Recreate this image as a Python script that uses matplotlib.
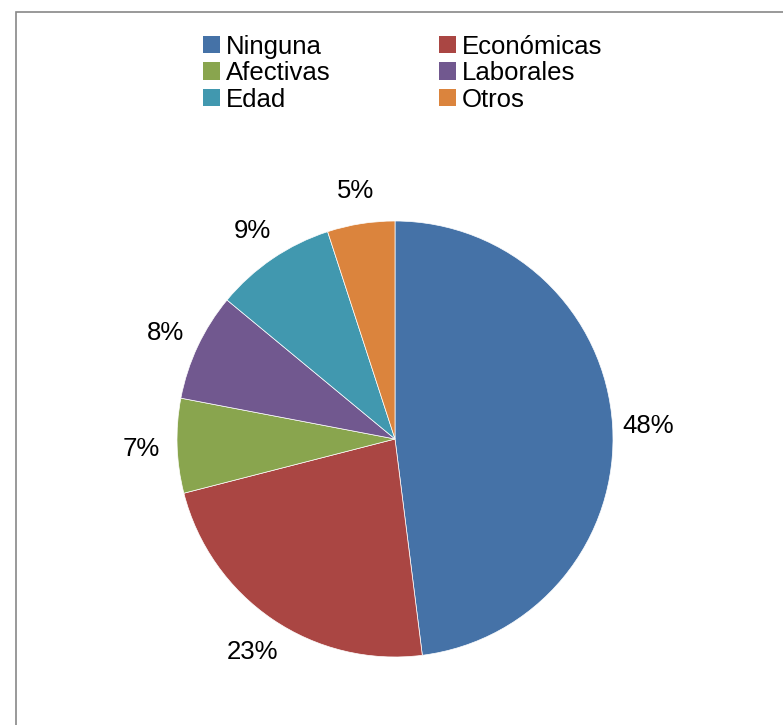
import matplotlib
matplotlib.use("Agg")
import matplotlib.pyplot as plt
from matplotlib.patches import Patch, Rectangle

plt.rcParams['font.family'] = ['Liberation Sans', 'DejaVu Sans']

categorias = ['Ninguna', 'Económicas', 'Afectivas', 'Laborales', 'Edad', 'Otros']
valores = [48, 23, 7, 8, 9, 5]
colores = ['#4572A7', '#AA4643', '#89A54E', '#71588F', '#4198AF', '#DB843D']

W, H = 783, 725
fig = plt.figure(figsize=(W / 100, H / 100), dpi=100)
ax = fig.add_axes([0, 0, 1, 1])

# pie in pixel coordinates (y up)
wedges, textos = ax.pie(valores, colors=colores, startangle=90, counterclock=False,
                        center=(395, H - 439), radius=218, frame=True,
                        labels=[f'{v}%' for v in valores], labeldistance=1.165,
                        wedgeprops=dict(edgecolor='white', linewidth=0.5),
                        textprops=dict(fontsize=18.5, color='black'))
for t in textos:
    t.set_ha('center')
    t.set_va('center_baseline')
ax.set_xlim(0, W)
ax.set_ylim(0, H)
ax.axis('off')

# chart border
ax.add_patch(Rectangle((15.5, -10), W, H - 11 + 10 - 0.5, fill=False,
                       edgecolor='#888888', linewidth=1.2, clip_on=False))

orden = [0, 2, 4, 1, 3, 5]
handles = [Patch(facecolor=colores[i], edgecolor='none') for i in orden]
labels = [categorias[i] for i in orden]
fig.legend(handles, labels, ncol=2, loc='upper center', bbox_to_anchor=(0.514, 0.97),
           frameon=False, fontsize=18.5, handlelength=0.66, handleheight=0.66,
           handletextpad=0.25, columnspacing=4.2, labelspacing=0.1, borderpad=0)

fig.savefig('out.png', dpi=100)
